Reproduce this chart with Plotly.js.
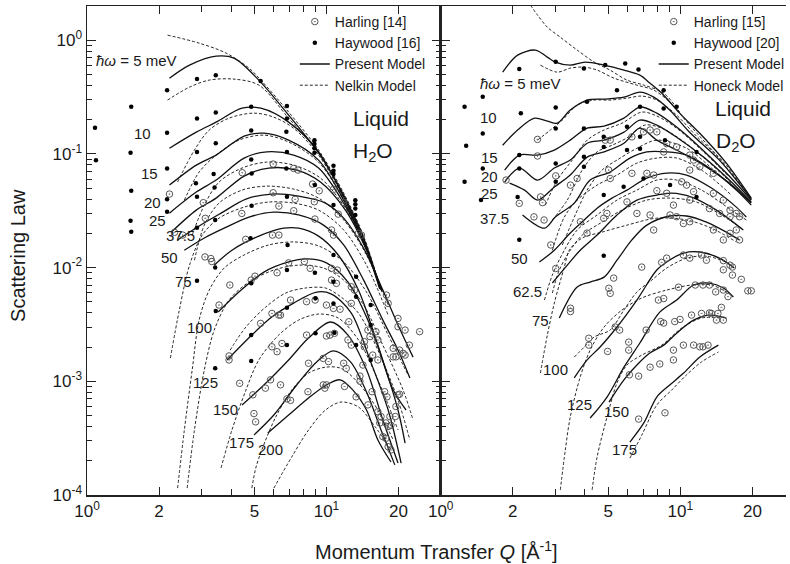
<!DOCTYPE html>
<html><head><meta charset="utf-8">
<script src="https://cdn.plot.ly/plotly-3.0.1.min.js"></script>
<style>body{margin:0;background:#fff}#chart{width:790px;height:564px}</style>
</head><body><div id="chart"></div>
<script>
// ---------- tick labels ----------
const xTickVals = [1, 2, 5, 10, 20];
const xTickText = ['10<sup>0</sup>', '2', '5', '10<sup>1</sup>', '20'];
const xMinorVals = [3, 4, 6, 7, 8, 9, 30];
const yTickVals = [1e-4, 1e-3, 1e-2, 1e-1, 1];
const yTickText = ['10<sup>-4</sup>', '10<sup>-3</sup>', '10<sup>-2</sup>', '10<sup>-1</sup>', '10<sup>0</sup>'];

// ---------- Liquid H2O : Present model (ħω = 5,10,15,20,25,37.5,50,75,100,125,150,175,200 meV) ----------
const h2oPresentQ = [
 [2.21,2.68,3.46,4.11,5.22,6.95,9.27,11.8,14.3,16.7],
 [2.21,2.86,3.46,4.44,5.32,6.95,9.27,11.8,14.3,16.7],
 [2.21,2.86,3.46,4.53,5.48,6.95,9.27,11.8,14.3,16.7],
 [2.21,2.86,3.46,4.53,5.64,7.29,9.27,11.8,14.5,16.9],
 [2.25,2.86,3.46,4.53,5.74,7.51,9.44,12.0,14.7,17.1],
 [2.39,2.94,3.63,4.61,5.91,7.65,9.91,11.8,14.3,17.2,19.9,23.0],
 [2.55,3.09,3.74,4.75,6.03,7.65,9.72,11.8,14.3,17.2,19.9,22.3],
 [3.40,4.03,5.22,6.63,7.65,9.27,11.2,13.6,16.4,19.0,21.5],
 [3.53,4.31,5.48,6.95,8.26,10.0,12.3,14.9,17.7,19.9,21.3],
 [3.85,4.88,5.91,7.29,9.10,10.5,12.7,15.2,18.1,20.5],
 [4.44,5.48,6.95,8.42,10.4,12.3,14.7,17.2,19.9],
 [4.98,6.03,7.51,9.10,10.7,12.6,14.7,16.9,19.3],
 [5.69,6.95,8.42,10.0,11.4,12.9,14.7,16.4,18.6]
];
const h2oPresentS = [
 [0.463,0.603,0.723,0.695,0.445,0.219,0.102,0.0434,0.0182,0.00674],
 [0.112,0.155,0.190,0.252,0.252,0.190,0.104,0.0417,0.0175,0.00661],
 [0.0531,0.0796,0.0975,0.143,0.152,0.132,0.0881,0.0392,0.0168,0.00648],
 [0.0301,0.0461,0.0588,0.0918,0.104,0.0975,0.0750,0.0369,0.0158,0.00634],
 [0.0205,0.0320,0.0408,0.0637,0.0750,0.0720,0.0565,0.0320,0.0142,0.00609],
 [0.0175,0.0232,0.0301,0.0400,0.0443,0.0425,0.0369,0.0272,0.0148,0.00634,0.00313,0.00163],
 [0.0142,0.0182,0.0222,0.0278,0.0307,0.0290,0.0236,0.0158,0.00776,0.00345,0.00188,0.00107],
 [0.0105,0.0142,0.0189,0.0222,0.0222,0.0189,0.0129,0.00634,0.00208,0.000837,0.000559],
 [0.00406,0.00609,0.00912,0.0112,0.0119,0.0110,0.00746,0.00345,0.00126,0.000559,0.000286],
 [0.00154,0.00255,0.00367,0.00487,0.00609,0.00585,0.00398,0.00154,0.000559,0.000191],
 [0.000618,0.000927,0.00154,0.00240,0.00332,0.00255,0.00126,0.000456,0.000191],
 [0.000337,0.000505,0.000927,0.00148,0.00185,0.00148,0.000804,0.000373,0.000184],
 [0.000351,0.000505,0.000713,0.000927,0.00103,0.000837,0.000559,0.000305,0.000195]
];

// ---------- Liquid H2O : Nelkin model ----------
const h2oNelkinQ = [
 [2.17,2.94,3.81,4.75,5.32,6.95,9.27,11.8,14.3,16.7],
 [2.17,2.68,3.24,4.11,5.22,6.95,9.27,11.8,14.3],
 [2.39,2.81,3.24,3.92,4.98,6.03,7.29,9.27,11.8,14.3],
 [2.55,2.94,3.46,4.31,5.48,6.95,9.27,11.8,14.4],
 [2.75,3.09,3.56,4.44,5.64,7.29,9.44,12.0,14.7],
 [2.81,3.09,3.56,4.44,5.64,7.29,9.27,11.8,14.7,18.1],
 [2.23,2.43,2.68,3.03,3.56,4.53,5.74,7.29,9.27,11.8,14.7,18.1],
 [2.39,2.55,2.75,2.94,3.24,3.74,4.53,5.74,7.29,9.27,11.8,14.7,18.1,21.9],
 [2.62,2.81,3.09,3.40,3.92,4.75,6.03,7.65,9.72,11.8,14.3,17.2,20.9,23.0],
 [3.96,4.61,5.58,6.76,8.18,9.91,11.5,13.6,16.4,19.9,22.3],
 [3.63,4.03,4.61,5.22,6.32,7.65,9.27,11.2,13.6,16.4,19.9],
 [4.88,5.07,5.37,6.14,7.16,8.42,9.91,11.5,13.6,16.4,19.0],
 [6.03,7.16,8.42,9.91,11.5,13.6,16.0,18.6]
];
const h2oNelkinS = [
 [1.106,0.941,0.769,0.567,0.445,0.233,0.108,0.0452,0.0189,0.00688],
 [0.297,0.386,0.445,0.454,0.402,0.206,0.102,0.0425,0.0182],
 [0.0565,0.108,0.162,0.206,0.228,0.210,0.168,0.0975,0.0408,0.0175],
 [0.0392,0.0691,0.0975,0.132,0.146,0.127,0.0846,0.0392,0.0164],
 [0.0193,0.0354,0.0565,0.0750,0.0846,0.0796,0.0612,0.0333,0.0148],
 [0.0116,0.0236,0.0369,0.0480,0.0520,0.0490,0.0408,0.0262,0.0129,0.00468],
 [0.00160,0.00423,0.0105,0.0193,0.0272,0.0340,0.0377,0.0369,0.0320,0.0214,0.0105,0.00382],
 [0.000115,0.000373,0.00126,0.00345,0.00634,0.00990,0.0129,0.0158,0.0168,0.0155,0.0112,0.00609,0.00255,0.00114],
 [0.000115,0.000373,0.00126,0.00282,0.00518,0.00746,0.00951,0.0105,0.00990,0.00776,0.00468,0.00208,0.000837,0.000456],
 [0.00188,0.00300,0.00450,0.00597,0.00661,0.00661,0.00551,0.00398,0.00188,0.000684,0.000305],
 [0.000173,0.000373,0.000837,0.00154,0.00255,0.00345,0.00390,0.00360,0.00231,0.00103,0.000373],
 [0.000115,0.000173,0.000249,0.000485,0.000837,0.00118,0.00133,0.00130,0.000966,0.000559,0.000305],
 [0.000115,0.000216,0.000373,0.000559,0.000657,0.000594,0.000396,0.000249]
];

// ---------- Liquid H2O : measurements ----------
const harling14Q = [2.21,2.32,2.51,3.06,3.12,4.45,4.43,4.60,5.99,5.99,5.95,6.33,6.33,7.30,7.60,7.30,7.40,8.75,9.33,8.95,8.90,10.5,10.7,11.2,11.8,10.7,13.6,14.0,
 3.11,3.29,3.32,3.95,3.56,3.92,3.92,4.34,4.85,5.03,5.31,4.93,4.98,5.06,5.56,5.84,5.92,6.22,6.43,6.84,7.08,5.92,6.52,6.22,6.43,6.32,6.95,7.08,8.09,8.55,8.26,8.97,8.26,8.37,8.42,9.70,9.85,10.0,9.70,10.2,10.0,10.35,10.8,10.0,10.7,11.4,10.5,11.0,10.5,11.1,11.8,12.1,11.9,12.3,12.7,12.4,12.7,12.7,13.1,13.3,13.8,13.8,14.2,14.4,14.4,14.9,15.2,14.9,15.5,16.1,16.4,15.6,16.4,16.4,16.9,16.7,17.5,17.9,17.2,17.7,18.1,18.6,17.7,18.1,18.6,18.4,19.4,17.8,18.1,19.0,19.5,19.0,20.2,19.9,20.2,19.5,19.9,19.9,21.3,20.9,21.3,22.2,24.5];
const harling14S = [0.0443,0.0204,0.0193,0.0372,0.0271,0.0682,0.0299,0.0177,0.0813,0.0455,0.0193,0.0193,0.0347,0.0744,0.072,0.0316,0.0398,0.0542,0.0473,0.0267,0.0379,0.0214,0.0193,0.0295,0.0372,0.0487,0.020,0.0193,
 0.0124,0.012,0.0113,0.00702,0.00468,0.00167,0.00154,0.00096,0.00776,0.0084,0.00323,0.00076,0.00052,0.00044,0.00087,0.00103,0.00395,0.00182,0.00093,0.0007,0.00068,0.00201,0.00215,0.009,0.00382,0.00382,0.011,0.00518,0.0113,0.00984,0.00501,0.00518,0.00255,0.00081,0.00144,0.00093,0.00087,0.00093,0.00159,0.00149,0.0025,0.00255,0.00264,0.00468,0.00437,0.0043,0.00776,0.00726,0.00984,0.0095,0.00144,0.0013,0.0009,0.00231,0.00208,0.00334,0.00484,0.00678,0.00634,0.00073,0.00111,0.001,0.00139,0.00223,0.00201,0.00282,0.00247,0.00062,0.00081,0.00273,0.00231,0.0017,0.00154,0.00054,0.00049,0.00043,0.00081,0.00073,0.000326,0.000315,0.000266,0.000249,0.00043,0.0004,0.00041,0.00049,0.00049,0.00573,0.00484,0.00164,0.00164,0.00195,0.00188,0.00076,0.00077,0.0006,0.00357,0.00302,0.00282,0.00176,0.0017,0.00208,0.00273];
const haywood16Q = [1.08,1.09,1.53,1.52,1.53,1.52,1.53,2.16,2.16,2.16,2.16,2.16,2.88,2.88,2.88,2.85,2.88,2.88,2.88,3.45,3.45,3.45,3.38,3.41,3.43,3.43,3.45,3.43,5.31,4.85,4.85,4.85,4.87,4.87,4.82,4.85,4.85,4.85,6.84,6.84,6.80,6.84,6.80,6.84,6.88,6.84,6.84,6.84,8.91,8.91,8.91,8.91,8.95,8.95,9.0,9.0,10.7,10.7,10.7,10.7,10.7,10.7,10.7,10.8,13.2,13.2,13.2,13.2,13.3,13.3,13.3,15.3,15.3,15.3];
const haywood16S = [0.17,0.088,0.26,0.102,0.0473,0.0258,0.0206,0.363,0.153,0.0744,0.0398,0.031,0.454,0.205,0.104,0.055,0.0419,0.0224,0.00766,0.492,0.231,0.124,0.0664,0.0507,0.0262,0.0100,0.00415,0.0013,0.436,0.259,0.160,0.0893,0.0673,0.0349,0.0181,0.00726,0.00255,0.00151,0.263,0.205,0.156,0.104,0.0744,0.0419,0.0158,0.0095,0.00443,0.00208,0.132,0.122,0.112,0.102,0.0531,0.009,0.00536,0.00264,0.0785,0.071,0.0664,0.0355,0.0129,0.0075,0.00484,0.00267,0.039,0.0361,0.0331,0.029,0.0083,0.00554,0.00208,0.00468,0.00312,0.00154];

// ---------- Liquid D2O : Present model (ħω = 5,10,15,20,25,37.5,50,62.5,75,100,125,150,175 meV) ----------
const d2oPresentQ = [
 [1.814,2.094,2.486,2.786,3.009,3.473,4.008,4.806,5.817,6.778,7.459,8.524,9.933,12.50,15.56,19.77],
 [1.814,2.094,2.462,2.786,3.067,3.473,4.085,4.806,5.817,6.778,7.750,9.028,10.93,14.56,19.77],
 [1.849,2.133,2.535,2.980,3.473,4.085,4.806,5.817,6.778,7.976,9.652,12.03,15.56,19.77],
 [1.849,2.133,2.535,2.980,3.473,4.085,4.806,5.817,6.778,7.976,9.652,12.50,16.02,19.77],
 [1.939,2.239,2.535,2.980,3.473,4.085,4.806,5.817,6.778,7.976,9.652,12.50,16.02,19.77],
 [2.195,2.710,3.009,3.608,4.205,5.089,6.160,7.247,8.773,10.62,13.23,17.13,19.77],
 [2.582,2.980,3.473,3.970,4.495,5.187,5.986,7.247,8.773,10.62,13.49,17.13,18.85],
 [2.924,3.375,3.821,4.495,5.441,6.588,7.976,9.203,11.14,14.15,18.32],
 [3.126,3.713,4.205,4.806,5.441,6.279,7.247,9.028,10.62,12.85,15.56,17.63],
 [3.608,4.085,4.626,5.441,6.588,7.976,8.773,10.32,12.03,14.56,16.80],
 [4.205,4.945,5.817,6.778,8.208,9.652,11.36,13.23,15.12,16.64],
 [5.040,5.817,6.588,7.459,8.524,9.652,11.36,13.23,15.56],
 [6.160,7.042,7.976,9.028,10.32,12.03,14.42]
];
const d2oPresentS = [
 [0.523,0.738,0.817,0.709,0.641,0.603,0.641,0.603,0.545,0.492,0.419,0.328,0.228,0.140,0.0829,0.0408],
 [0.119,0.162,0.206,0.194,0.186,0.243,0.297,0.303,0.315,0.349,0.315,0.243,0.155,0.0881,0.0400],
 [0.0720,0.0975,0.0975,0.108,0.132,0.168,0.175,0.206,0.258,0.228,0.172,0.115,0.0678,0.0392],
 [0.0565,0.0750,0.0588,0.0750,0.0881,0.124,0.132,0.155,0.198,0.179,0.140,0.0936,0.0588,0.0377],
 [0.0553,0.0480,0.0392,0.0510,0.0651,0.0936,0.104,0.124,0.168,0.132,0.108,0.0796,0.0553,0.0369],
 [0.0290,0.0222,0.0278,0.0369,0.0588,0.0691,0.0918,0.104,0.104,0.0975,0.0750,0.0480,0.0354],
 [0.0112,0.0142,0.0201,0.0262,0.0333,0.0408,0.0480,0.0612,0.0678,0.0651,0.0500,0.0340,0.0278],
 [0.00731,0.0105,0.0142,0.0193,0.0290,0.0392,0.0434,0.0452,0.0417,0.0320,0.0214],
 [0.00360,0.00674,0.00746,0.00824,0.0116,0.0175,0.0236,0.0284,0.0284,0.0251,0.0205,0.0175],
 [0.00107,0.00154,0.00200,0.00300,0.00518,0.00951,0.0112,0.0134,0.0137,0.0121,0.00990],
 [0.000475,0.000727,0.00133,0.00217,0.00406,0.00518,0.00702,0.00731,0.00661,0.00551],
 [0.000657,0.00103,0.00139,0.00177,0.00208,0.00265,0.00345,0.00382,0.00360],
 [0.000292,0.000430,0.000727,0.000927,0.00118,0.00163,0.00208]
];

// ---------- Liquid D2O : Honeck model ----------
const d2oHoneckQ = [
 [2.370,2.535,2.786,3.157,3.713,4.368,5.089,5.986,7.042,8.524,9.933],
 [2.607,3.067,3.473,3.970,4.495,5.287,6.588,7.750,9.028,10.93,14.15,19.77],
 [2.535,2.870,3.218,3.713,4.368,5.089,5.986,6.909,7.976,9.652,11.68,15.56,19.77],
 [2.735,3.067,3.540,4.085,4.806,5.706,6.909,7.976,9.652,12.26,15.86],
 [2.924,3.375,3.895,4.495,5.187,5.986,7.11,8.367,10.13,12.85,16.33],
 [3.218,3.643,4.085,4.714,5.441,6.588,7.976,10.62,13.49,17.13],
 [2.924,3.280,3.713,4.495,5.441,6.588,7.976,9.652,12.26,16.33],
 [2.710,2.924,3.280,3.713,4.495,5.441,6.588,7.976,9.652,12.26,16.33,18.85],
 [2.924,3.126,3.473,3.895,4.714,5.706,7.247,9.203,11.68,14.84,17.97],
 [2.607,2.786,2.980,3.280,3.440,3.895,4.714,5.986,7.976,10.62,13.49,17.13],
 [3.608,3.970,4.368,5.089,5.817,6.588,7.604,8.773,10.62,12.85,15.56],
 [3.157,3.311,3.473,3.821,4.205,4.806,5.706,6.909,8.773,11.14,13.49,16.33],
 [4.285,4.495,4.945,5.441,5.986,6.909,8.367,10.13,12.26,14.84],
 [6.160,6.909,7.976,9.203,10.62,12.26,14.42]
];
const d2oHoneckS = [
 [2.03,1.66,1.30,1.06,0.817,0.641,0.545,0.445,0.402,0.342,0.233],
 [0.603,0.523,0.567,0.579,0.545,0.463,0.402,0.363,0.285,0.179,0.0975,0.0408],
 [0.132,0.162,0.198,0.268,0.297,0.297,0.309,0.322,0.297,0.219,0.143,0.0796,0.0392],
 [0.0354,0.0588,0.0881,0.132,0.162,0.186,0.233,0.215,0.168,0.108,0.0637],
 [0.0262,0.0392,0.0720,0.104,0.119,0.138,0.179,0.168,0.132,0.0881,0.0553],
 [0.0158,0.0290,0.0480,0.0720,0.0881,0.112,0.132,0.112,0.0750,0.0480],
 [0.0142,0.0278,0.0392,0.0531,0.0651,0.0829,0.0918,0.0918,0.0720,0.0434],
 [0.00518,0.00859,0.0142,0.0214,0.0290,0.0392,0.0480,0.0588,0.0588,0.0480,0.0320,0.0262],
 [0.00597,0.00951,0.0142,0.0193,0.0251,0.0320,0.0392,0.0408,0.0377,0.0290,0.0222],
 [0.00118,0.00255,0.00487,0.0101,0.0142,0.0182,0.0205,0.0236,0.0272,0.0262,0.0222,0.0168],
 [0.00163,0.00200,0.00245,0.00282,0.00423,0.00609,0.00776,0.00990,0.0121,0.0126,0.0112],
 [0.000111,0.000249,0.000485,0.00109,0.00188,0.00300,0.00423,0.00540,0.00634,0.00702,0.00702,0.00573],
 [0.000111,0.000216,0.000485,0.000966,0.00139,0.00170,0.00208,0.00294,0.00360,0.00360],
 [0.000211,0.000337,0.000618,0.000837,0.00114,0.00148,0.00181]
];

// ---------- Liquid D2O : measurements ----------
const harling15Q = [2.535,1.874,2.535,3.02,2.61,2.66,2.45,2.70,2.128,3.48,3.71,4.86,5.10,6.28,7.02,7.48,7.98,8.77,9.65,10.95,11.36,12.06,13.74,10.95,5.02,5.10,6.28,7.25,7.74,8.52,10.13,10.62,11.36,13.74,15.12,16.12,17.13,17.67,7.98,8.77,9.36,10.95,13.23,14.59,16.12,17.13,5.99,6.59,7.48,7.74,4.94,4.79,4.08,3.83,2.88,9.06,9.65,10.30,10.95,13.74,15.12,16.12,17.67,
 3.02,3.48,3.48,4.15,4.15,5.03,5.10,5.27,5.35,5.58,4.97,6.09,6.09,6.13,6.70,7.20,6.90,8.10,8.52,8.28,8.52,7.48,8.21,8.77,8.36,9.48,9.97,9.36,9.36,9.83,10.3,10.95,11.14,10.3,11.36,12.06,12.43,13.05,12.26,12.85,11.55,12.43,13.23,12.26,13.23,13.49,14.35,14.84,14.05,14.15,15.12,15.12,15.81,15.12,16.12,15.12,16.5,16.5,17.97,19.13,19.77,6.70,8.63];
const harling15S = [0.134,0.0588,0.0957,0.0640,0.0418,0.0372,0.0279,0.0262,0.0367,0.0531,0.0607,0.132,0.132,0.141,0.156,0.162,0.156,0.123,0.115,0.0975,0.0881,0.0770,0.0674,0.0720,0.0720,0.0607,0.0674,0.0674,0.0651,0.104,0.0568,0.0531,0.0465,0.0450,0.0392,0.0320,0.0299,0.0280,0.0474,0.0450,0.0354,0.0392,0.0330,0.0299,0.0280,0.0214,0.0378,0.0299,0.0290,0.0214,0.0299,0.0271,0.0201,0.0253,0.0158,0.0290,0.0280,0.0244,0.0253,0.0214,0.0175,0.0200,0.0175,
 0.00981,0.00439,0.00410,0.00239,0.00208,0.00657,0.00593,0.00808,0.00300,0.00282,0.00183,0.00221,0.00188,0.00114,0.00111,0.00282,0.0101,0.00518,0.00534,0.00335,0.00325,0.00133,0.00142,0.0121,0.0111,0.00335,0.00350,0.00154,0.00188,0.00672,0.0129,0.0121,0.00382,0.00208,0.00208,0.00201,0.00201,0.00208,0.0129,0.0116,0.00702,0.00702,0.00702,0.00395,0.00399,0.00395,0.00395,0.00447,0.00611,0.00345,0.00345,0.00634,0.00555,0.0115,0.0105,0.00956,0.0101,0.00859,0.00788,0.00624,0.00624,0.000465,0.000528];
const haywood20Q = [1.498,1.258,2.128,3.02,3.96,4.86,5.89,6.69,8.52,9.65,1.498,1.277,2.16,3.02,4.08,5.44,6.79,8.52,1.498,1.258,2.128,3.02,3.96,4.79,5.99,6.79,8.63,11.68,1.473,2.128,3.02,3.96,4.79,5.99,6.79,2.094,3.02,3.96,5.80,7.02,2.128,4.79,9.06,11.68,4.79];
const haywood20S = [0.318,0.259,0.556,0.644,0.564,0.603,0.624,0.552,0.363,0.259,0.151,0.118,0.227,0.256,0.287,0.363,0.259,0.251,0.0744,0.0568,0.0975,0.167,0.167,0.141,0.173,0.141,0.132,0.104,0.0392,0.0744,0.0823,0.0942,0.115,0.108,0.111,0.0418,0.0568,0.0770,0.0513,0.0607,0.0176,0.0434,0.0531,0.0418,0.0127];

// ---------- build ----------
const FONT = "'Liberation Sans', Arial, Helvetica, sans-serif";
const INK = '#1a1a1a';
const traces = [];
function addLines(Qs, Ss, xa, ya, dashed, name, legendId, rank) {
  Qs.forEach((q, i) => traces.push({
    type: 'scatter', mode: 'lines', x: q, y: Ss[i], xaxis: xa, yaxis: ya,
    name: name, legend: legendId, legendgroup: name + legendId, showlegend: i === 0, legendrank: rank,
    line: {color: '#111', width: dashed ? 0.9 : 1.3, dash: dashed ? '3px,2px' : 'solid', shape: 'spline', smoothing: 0.9},
    hoverinfo: 'skip'
  }));
}
function addPoints(Q, S, xa, ya, open, name, legendId, rank) {
  traces.push({
    type: 'scatter', mode: 'markers', x: Q, y: S, xaxis: xa, yaxis: ya,
    name: name, legend: legendId, legendrank: rank,
    marker: open ? {symbol: 'circle-open-dot', size: 6.5, color: '#555', line: {width: 1, color: '#555'}}
                 : {symbol: 'circle', size: 4.5, color: '#000'},
    hoverinfo: 'skip'
  });
}
addLines(h2oPresentQ, h2oPresentS, 'x', 'y', false, 'Present Model', 'legend', 3);
addLines(h2oNelkinQ, h2oNelkinS, 'x', 'y', true, 'Nelkin Model', 'legend', 4);
addPoints(harling14Q, harling14S, 'x', 'y', true, 'Harling [14]', 'legend', 1);
addPoints(haywood16Q, haywood16S, 'x', 'y', false, 'Haywood [16]', 'legend', 2);
addLines(d2oPresentQ, d2oPresentS, 'x2', 'y2', false, 'Present Model', 'legend2', 3);
addLines(d2oHoneckQ, d2oHoneckS, 'x2', 'y2', true, 'Honeck Model', 'legend2', 4);
addPoints(harling15Q, harling15S, 'x2', 'y2', true, 'Harling [15]', 'legend2', 1);
addPoints(haywood20Q, haywood20S, 'x2', 'y2', false, 'Haywood [20]', 'legend2', 2);

const yMinor = [];
for (let e = -4; e <= 0; e++) for (let k = 2; k <= 9; k++) { const v = k * Math.pow(10, e); if (v <= 2.0) yMinor.push(v); }

function xAxis(domain, range, anchor) {
  return {type: 'log', domain: domain, range: range, anchor: anchor,
    tickmode: 'array', tickvals: xTickVals, ticktext: xTickText, tickfont: {size: 17, color: INK},
    ticks: 'inside', ticklen: 8, tickwidth: 1, tickcolor: '#222',
    minor: {tickmode: 'array', tickvals: xMinorVals, ticks: 'inside', ticklen: 6, tickwidth: 1, tickcolor: '#222', showgrid: false},
    showline: true, linecolor: '#222', linewidth: 1.5, mirror: 'ticks', showgrid: false, zeroline: false, fixedrange: true};
}
function yAxis(anchor, labels, mirror) {
  return {type: 'log', range: [-4, 0.3], anchor: anchor,
    tickmode: 'array', tickvals: yTickVals, ticktext: yTickText, showticklabels: labels, tickfont: {size: 17, color: INK},
    ticks: 'inside', ticklen: 9, tickwidth: 1, tickcolor: '#222',
    minor: {tickmode: 'array', tickvals: yMinor, ticks: 'inside', ticklen: 5, tickwidth: 1, tickcolor: '#222', showgrid: false},
    showline: true, linecolor: '#222', linewidth: 1.5, mirror: mirror, showgrid: false, zeroline: false, fixedrange: true};
}

// curve labels: [text, log10 Q, log10 S]
const h2oLabels = [['<i>ħω</i> = 5 meV',0.203,-0.176],['10',0.232,-0.818],['15',0.261,-1.169],['20',0.274,-1.424],['25',0.295,-1.582],
 ['37.5',0.390,-1.714],['50',0.344,-1.908],['75',0.402,-2.119],['100',0.469,-2.523],['125',0.494,-3.007],['150',0.577,-3.244],['175',0.647,-3.534],['200',0.768,-3.596]];
const d2oLabels = [['<i>ħω</i> = 5 meV',0.333,-0.378],['10',0.200,-0.677],['15',0.205,-1.030],['20',0.205,-1.200],['25',0.205,-1.350],
 ['37.5',0.225,-1.565],['50',0.329,-1.916],['62.5',0.362,-2.207],['75',0.416,-2.462],['100',0.478,-2.892],['125',0.578,-3.200],['150',0.732,-3.262],['175',0.769,-3.596]];

const annotations = [];
h2oLabels.forEach(l => annotations.push({xref: 'x', yref: 'y', x: l[1], y: l[2], text: l[0], showarrow: false, font: {size: 15, color: INK}}));
d2oLabels.forEach(l => annotations.push({xref: 'x2', yref: 'y2', x: l[1], y: l[2], text: l[0], showarrow: false, font: {size: 15, color: INK}}));
annotations.push({xref: 'x', yref: 'y', x: 1.104, y: -0.686, xanchor: 'left', text: 'Liquid', showarrow: false, font: {size: 21, color: INK}});
annotations.push({xref: 'x', yref: 'y', x: 1.104, y: -0.985, xanchor: 'left', text: 'H<sub>2</sub>O', showarrow: false, font: {size: 21, color: INK}});
annotations.push({xref: 'x2', yref: 'y2', x: 1.137, y: -0.598, xanchor: 'left', text: 'Liquid', showarrow: false, font: {size: 21, color: INK}});
annotations.push({xref: 'x2', yref: 'y2', x: 1.142, y: -0.897, xanchor: 'left', text: 'D<sub>2</sub>O', showarrow: false, font: {size: 21, color: INK}});
annotations.push({xref: 'paper', yref: 'paper', x: 0.5, y: -0.1125, xanchor: 'center', yanchor: 'middle', text: 'Momentum Transfer <i>Q</i> [Å<sup>-1</sup>]', showarrow: false, font: {size: 20, color: INK}});
annotations.push({xref: 'paper', yref: 'paper', x: -0.098, y: 0.49, xanchor: 'center', yanchor: 'middle', textangle: -90, text: 'Scattering Law', showarrow: false, font: {size: 20, color: INK}});

const legendBase = {xref: 'paper', yref: 'paper', xanchor: 'left', yanchor: 'top', y: 1.0, bgcolor: 'rgba(0,0,0,0)',
  borderwidth: 0, traceorder: 'normal', tracegroupgap: 0, font: {size: 14, color: INK}};

const layout = {
  width: 790, height: 564, margin: {l: 87, r: 0, t: 6, b: 69},
  paper_bgcolor: '#fff', plot_bgcolor: '#fff', font: {family: FONT, size: 16, color: INK},
  xaxis: xAxis([0, 0.506], [0, Math.log10(30)], 'y'),
  yaxis: yAxis('x', true, 'ticks'),
  xaxis2: xAxis([0.506, 1], [0, 1.441], 'y2'),
  yaxis2: yAxis('x2', false, false),
  showlegend: true,
  legend: Object.assign({}, legendBase, {x: 0.2973}),
  legend2: Object.assign({}, legendBase, {x: 0.8108}),
  annotations: annotations
};

Plotly.newPlot('chart', traces, layout, {staticPlot: true, displayModeBar: false});
</script>
</body></html>
